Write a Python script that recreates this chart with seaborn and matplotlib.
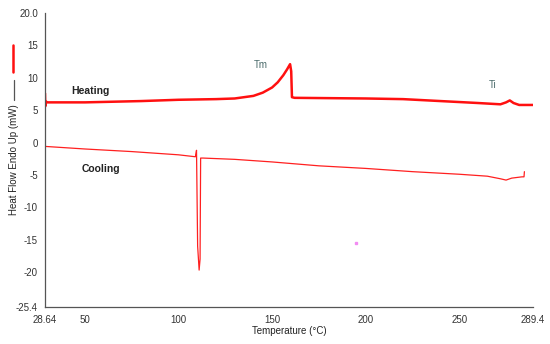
import matplotlib
matplotlib.use("Agg")
import matplotlib.pyplot as plt
from matplotlib.lines import Line2D
import seaborn as sns
import pandas as pd

# Heating curve (temperature °C, heat flow mW)
heat_t = [28.64, 28.8, 29.2, 30, 50, 80, 100, 120, 130, 135, 140, 145, 150, 153,
          156, 158, 159.6, 160.2, 160.6, 162, 200, 220, 240, 260, 272, 275, 277,
          279, 282, 289.4]
heat_v = [7.6, 5.6, 6.3, 6.2, 6.2, 6.4, 6.6, 6.7, 6.8, 7.0, 7.2, 7.7, 8.5, 9.3,
          10.4, 11.3, 12.1, 11.0, 7.0, 6.9, 6.8, 6.7, 6.4, 6.1, 5.9, 6.2, 6.5,
          6.1, 5.8, 5.8]

# Cooling curve
cool_t = [28.64, 50, 75, 100, 109, 109.6, 110.2, 111.0, 111.5, 111.8, 113, 130,
          150, 175, 200, 225, 250, 265, 272, 275, 278, 283.5, 284.6, 284.8]
cool_v = [-0.6, -1.0, -1.4, -1.9, -2.2, -1.2, -16.0, -19.7, -18.0, -2.4, -2.4,
          -2.6, -3.0, -3.6, -4.0, -4.5, -4.9, -5.2, -5.6, -5.8, -5.5, -5.3,
          -5.3, -4.5]

# stray marker
dot_t = [195.0]
dot_v = [-15.5]

xticks = [28.64, 50, 100, 150, 200, 250, 289.4]
xticklabels = ["28.64", "50", "100", "150", "200", "250", "289.4"]
yticks = [20, 15, 10, 5, 0, -5, -10, -15, -20, -25.4]
yticklabels = ["20.0", "15", "10", "5", "0", "-5", "-10", "-15", "-20", "-25.4"]

sns.set_style("white")
plt.rcParams["font.family"] = ["Liberation Sans", "DejaVu Sans"]

fig = plt.figure(figsize=(5.5, 3.44), dpi=100)
ax = fig.add_axes([45/550, 1-307/344, (533-45)/550, (307-13)/344])

heat = pd.DataFrame({"t": heat_t, "v": heat_v})
cool = pd.DataFrame({"t": cool_t, "v": cool_v})
sns.lineplot(data=heat, x="t", y="v", sort=False, ax=ax, color="#ff1010", linewidth=1.8)
sns.lineplot(data=cool, x="t", y="v", sort=False, ax=ax, color="#ff2020", linewidth=0.9)
ax.plot(dot_t, dot_v, marker="s", markersize=1.6, color="#f28cf2", linestyle="none")

ax.set_xlim(28.64, 289.4)
ax.set_ylim(-25.4, 20.0)
ax.set_xticks(xticks)
ax.set_xticklabels(xticklabels)
ax.set_yticks(yticks)
ax.set_yticklabels(yticklabels)
ax.tick_params(axis="both", labelsize=7, colors="#333333", length=3, width=0.8)
ax.tick_params(axis="x", direction="inout", pad=4)
ax.tick_params(axis="y", direction="out", pad=2)
for s in ["top", "right"]:
    ax.spines[s].set_visible(False)
for s in ["left", "bottom"]:
    ax.spines[s].set_color("#555555")
    ax.spines[s].set_linewidth(0.9)
ax.set_xlabel("Temperature (°C)", fontsize=7, color="#222222", labelpad=1)
ax.set_ylabel("")

ax.text(53, 7.95, "Heating", fontsize=7.5, fontweight="bold", ha="center", va="center", color="#222222")
ax.text(58.6, -4.1, "Cooling", fontsize=7.5, fontweight="bold", ha="center", va="center", color="#222222")
ax.text(144, 12.0, "Tm", fontsize=7, ha="center", va="center", color="#4a6a6a")
ax.text(267.7, 8.9, "Ti", fontsize=7, ha="center", va="center", color="#4a6a6a")

fig.text(14/550, 1-160/344, "Heat Flow Endo Up (mW)", rotation=90, fontsize=7,
         ha="center", va="center", color="#222222")
fig.add_artist(Line2D([14/550, 14/550], [1-80/344, 1-100/344], color="#555555", linewidth=0.9))
fig.add_artist(Line2D([13/550, 13/550], [1-45/344, 1-72/344], color="#ff1010", linewidth=1.8))

fig.savefig("out.png", dpi=100)
